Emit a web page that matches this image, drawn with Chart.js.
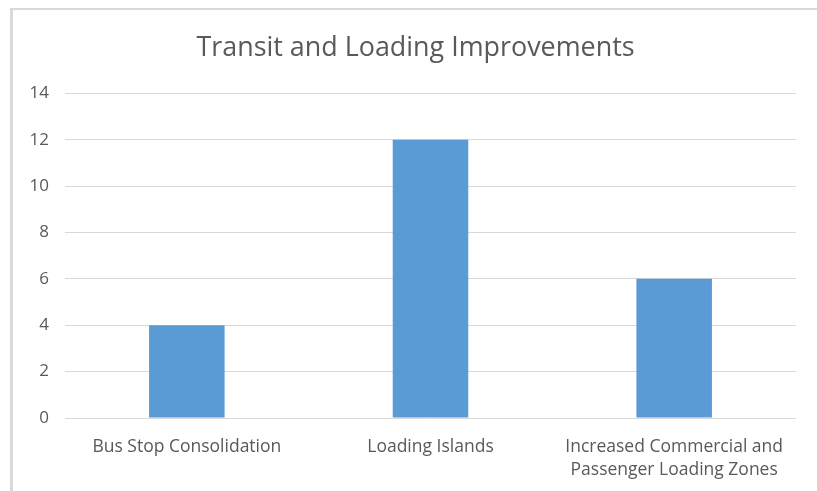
<!DOCTYPE html>
<html>
<head>
<meta charset="utf-8">
<script src="https://cdn.jsdelivr.net/npm/chart.js@4"></script>
<style>
  html, body { margin: 0; padding: 0; background: #fff; }
  #wrap { position: relative; width: 817px; height: 491px; overflow: hidden; }
  #frame { position: absolute; left: 10px; top: 8px; width: 900px; height: 600px;
           border-left: 3px solid #d9d9d9; border-top: 2px solid #d9d9d9; }
  canvas { position: absolute; left: 0; top: 0; }
</style>
</head>
<body>
<div id="wrap">
  <div id="frame"></div>
  <canvas id="chart" width="831" height="491"></canvas>
</div>
<script>
// chart data
const categories = [
    'Bus Stop Consolidation',
    'Loading Islands',
    ['Increased Commercial and', 'Passenger Loading Zones']
];
const counts = [4, 12, 6];
const yTicks = [0, 2, 4, 6, 8, 10, 12, 14];

const textColor = '#595959';
const fontFamily = '"Open Sans", "Liberation Sans", sans-serif';

new Chart(document.getElementById('chart'), {
    type: 'bar',
    data: {
        labels: categories,
        datasets: [{
            data: counts,
            backgroundColor: '#5b9bd5',
            barPercentage: 0.31,
            categoryPercentage: 1
        }]
    },
    options: {
        responsive: false,
        animation: false,
        layout: { padding: 0 },
        plugins: {
            legend: { display: false },
            tooltip: { enabled: false },
            title: {
                display: true,
                text: 'Transit and Loading Improvements',
                color: textColor,
                font: { family: fontFamily, size: 26.9, weight: 'normal' },
                padding: { top: 32, bottom: 29 }
            }
        },
        scales: {
            x: {
                grid: { display: false },
                border: { display: false },
                ticks: {
                    color: textColor,
                    font: { family: fontFamily, size: 17.5, lineHeight: 1.32 },
                    padding: 9,
                    maxRotation: 0
                },
                afterFit: scale => { scale.height = 73; }
            },
            y: {
                min: 0,
                max: 14,
                afterBuildTicks: scale => { scale.ticks = yTicks.map(v => ({ value: v })); },
                grid: { color: '#d9d9d9', drawTicks: false },
                border: { display: false },
                ticks: {
                    color: textColor,
                    font: { family: fontFamily, size: 17 },
                    padding: 16
                },
                afterFit: scale => { scale.width = 65; }
            },
            // empty right-hand spacer so the title centres over the whole frame
            spacer: {
                position: 'right',
                min: 0,
                max: 14,
                grid: { display: false },
                border: { display: false },
                ticks: { display: false },
                afterFit: scale => { scale.width = 35; }
            }
        }
    }
});
</script>
</body>
</html>
